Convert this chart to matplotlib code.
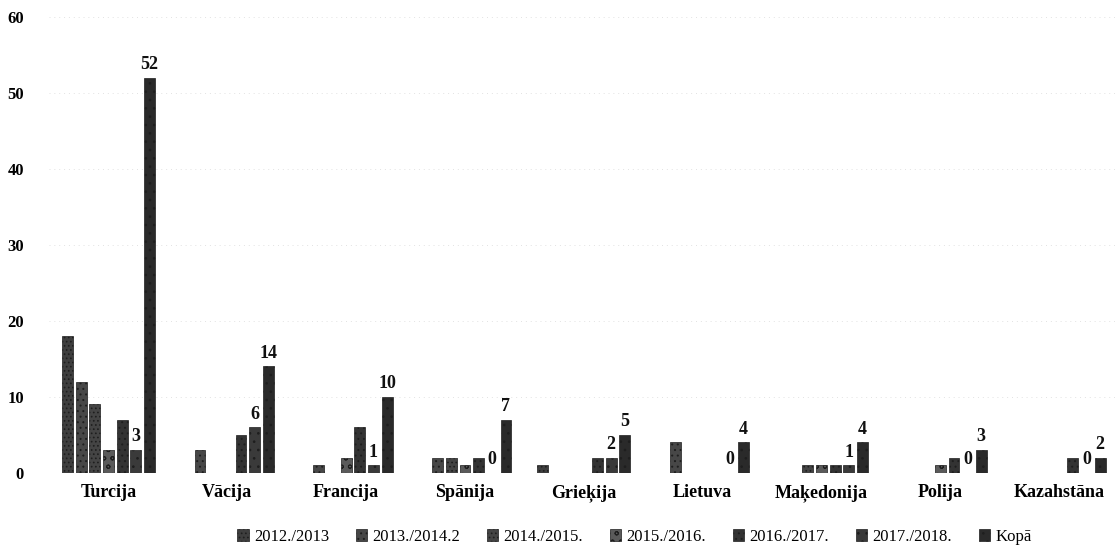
import matplotlib.pyplot as plt
import numpy as np

# Data
countries = ['Turcija', 'Vācija', 'Francija', 'Spānija', 'Grieķija',
             'Lietuva', 'Maķedonija', 'Polija', 'Kazahstāna']
series_names = ['2012./2013', '2013./2014.2', '2014./2015.', '2015./2016.',
                '2016./2017.', '2017./2018.', 'Kopā']
y2012 = [18, 0, 0, 0, 1, 0, 0, 0, 0]
y2013 = [12, 3, 1, 2, 0, 4, 0, 0, 0]
y2014 = [9, 0, 0, 2, 0, 0, 1, 0, 0]
y2015 = [3, 0, 2, 1, 0, 0, 1, 1, 0]
y2016 = [7, 5, 6, 2, 2, 0, 1, 2, 2]
y2017 = [3, 6, 1, 0, 2, 0, 1, 0, 0]
kopa = [52, 14, 10, 7, 5, 4, 4, 3, 2]

series = [y2012, y2013, y2014, y2015, y2016, y2017, kopa]
faces = ['#3e3e3e', '#474747', '#444444', '#5a5a5a', '#333333', '#3a3a3a', '#2a2a2a']
hatches = ['....', '...', '....', 'oo', '...', '..', '..']

plt.rcParams['font.family'] = ['Liberation Serif', 'DejaVu Serif']
plt.rcParams['hatch.color'] = '#c8c8c8'
plt.rcParams['hatch.linewidth'] = 0.7

fig = plt.figure(figsize=(11.15, 5.53), dpi=100)
ax = fig.add_axes([0.044, 0.145, 0.956, 0.824])

x = np.arange(len(countries))
slot = 0.115
width = 0.092

for i, (vals, name) in enumerate(zip(series, series_names)):
    pos = x + (i - 3) * slot
    ax.bar(pos, vals, width, color=faces[i], hatch=hatches[i],
           edgecolor='#1e1e1e', linewidth=0.5, label=name)
    # only the last year and the totals carry value labels
    if i >= 5:
        for p, v in zip(pos, vals):
            ax.text(p, v + 0.6, str(v), ha='center', va='bottom',
                    fontsize=13, fontweight='bold', color='#111111')

ax.set_xlim(-0.5, 8.47)
ax.set_ylim(0, 60)
ax.set_yticks(range(0, 61, 10))
ax.set_xticks(x)
ax.set_xticklabels(countries, fontsize=13, fontweight='bold')
ax.tick_params(axis='y', labelsize=12, length=0, pad=18)
ax.tick_params(axis='x', length=0, pad=8)
for lbl in ax.get_yticklabels():
    lbl.set_fontweight('bold')

for s in ax.spines.values():
    s.set_visible(False)
ax.yaxis.grid(True, color='#e2e2e2', linestyle=(0, (1, 4)), linewidth=0.7)
ax.set_axisbelow(True)

fig.legend(loc='lower center', bbox_to_anchor=(0.569, -0.012), ncol=7,
           frameon=False, fontsize=12, handlelength=0.7, handleheight=0.7,
           handletextpad=0.3, columnspacing=1.6)

plt.savefig('out.png', dpi=100)
